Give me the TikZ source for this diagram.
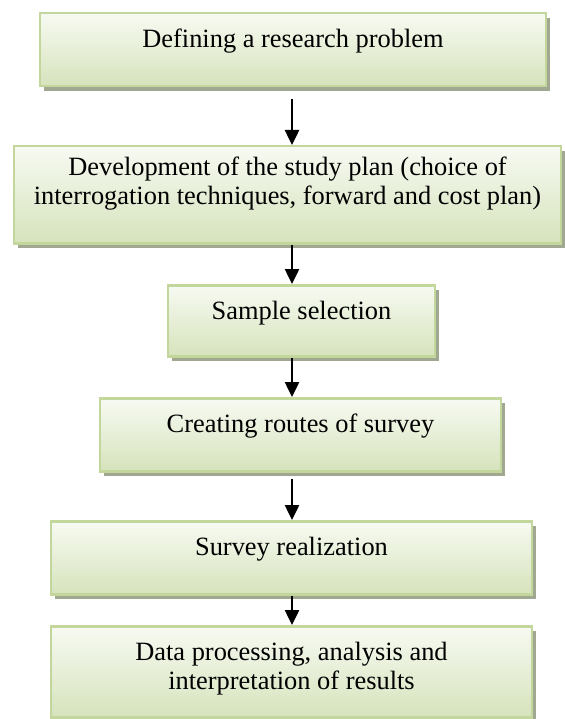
\documentclass[tikz,border=0pt]{standalone}
\usepackage{fontspec}
\setmainfont{Liberation Serif}
\usetikzlibrary{arrows.meta,shadows}

\definecolor{boxline}{RGB}{195,214,155}
\definecolor{boxtop}{RGB}{247,250,242}
\definecolor{boxbottom}{RGB}{214,227,188}
\definecolor{boxshadow}{RGB}{160,168,145}

\begin{document}
\begin{tikzpicture}[x=1pt, y=-1pt, line width=2.5pt,
	stage/.style={draw=boxline, top color=boxtop, bottom color=boxbottom, inner sep=0pt, anchor=north, align=center, font=\fontsize{26.4}{29.5}\selectfont, drop shadow={shadow xshift=3.5pt, shadow yshift=-4.5pt, fill=boxshadow, opacity=1}},
	flow/.style={-{Triangle[length=15pt, width=14pt]}, line width=2.5pt, black}]
\useasboundingbox (0,0) rectangle (564,719);
\coordinate (axis) at (292,0);

\node[stage, minimum width=506pt, text height=34pt, text depth=39pt] (define) at (293,12) {Defining a research problem};
\node[stage, minimum width=547pt, text height=58.5pt, text depth=38.5pt] (plan) at (287.5,145) {Development of the study plan (choice of\\interrogation techniques, forward and cost plan)};
\node[stage, minimum width=267pt, text height=34pt, text depth=37pt] (sample) at (301.5,284) {Sample selection};
\node[stage, minimum width=401pt, text height=34pt, text depth=39pt] (routes) at (300.5,397) {Creating routes of survey};
\node[stage, minimum width=481pt, text height=34pt, text depth=39pt] (survey) at (291.5,520) {Survey realization};
\node[stage, minimum width=481pt, text height=63.5pt, text depth=27.5pt] (results) at (291.5,625) {Data processing, analysis and\\interpretation of results};

\draw[flow, shorten <=12pt] (define.south -| axis) -- (plan.north -| axis);
\draw[flow] (plan.south -| axis) -- (sample.north -| axis);
\draw[flow] (sample.south -| axis) -- (routes.north -| axis);
\draw[flow, shorten <=6pt] (routes.south -| axis) -- (survey.north -| axis);
\draw[flow] (survey.south -| axis) -- (results.north -| axis);

\end{tikzpicture}
\end{document}
